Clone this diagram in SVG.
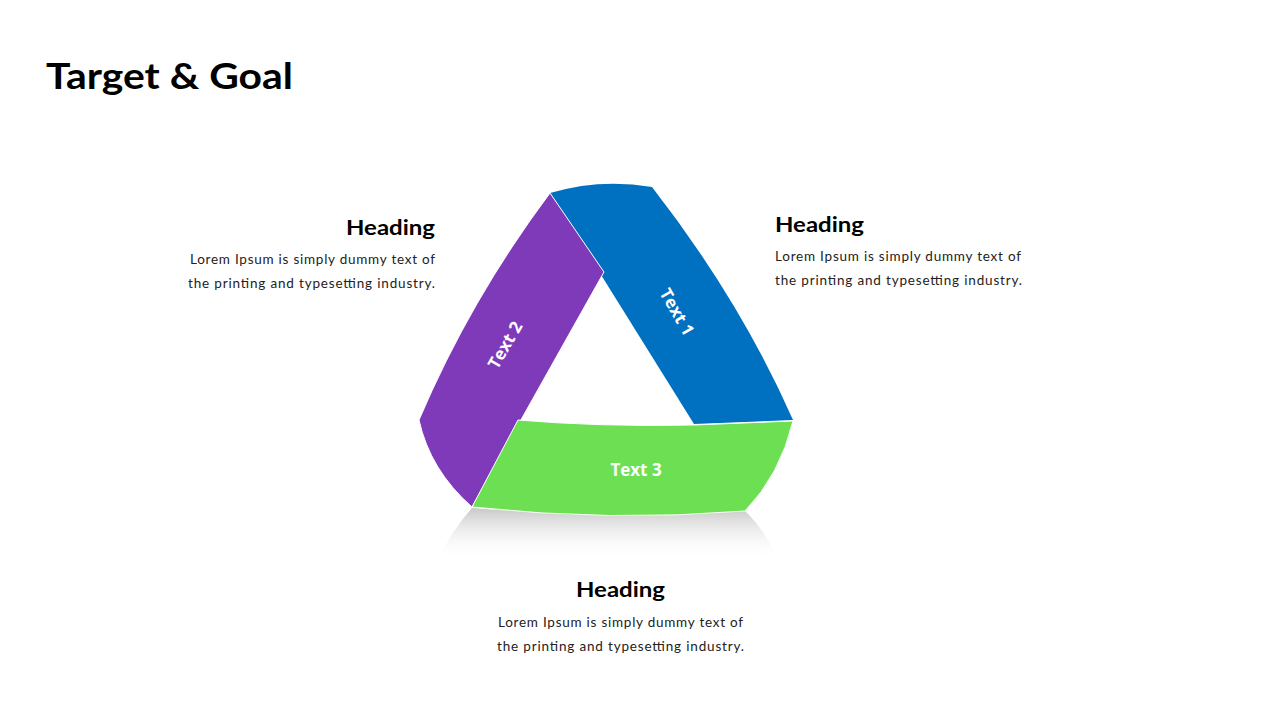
<svg xmlns="http://www.w3.org/2000/svg" width="1280" height="720" viewBox="0 0 1280 720">
<defs>
<linearGradient id="sh" x1="0" y1="0" x2="0" y2="1"><stop offset="0" stop-color="#c8c8c8"/><stop offset="1" stop-color="#fff" stop-opacity="0"/></linearGradient>
<style>
.h{font-family:"Lato","Liberation Sans",sans-serif;font-weight:bold;font-size:21px;fill:#000}
.b{font-family:"Lato","Liberation Sans",sans-serif;font-size:13.5px;fill:#222}
.l{font-family:"Open Sans","Liberation Sans",sans-serif;font-weight:bold;font-size:17px;fill:#fff}
</style>
</defs>
<rect width="1280" height="720" fill="#fff"/>
<text x="46" y="89" font-family="Lato,'Liberation Sans',sans-serif" font-weight="bold" font-size="36" fill="#000" textLength="247" lengthAdjust="spacingAndGlyphs">Target &amp; Goal</text>
<path d="M472,508 Q620,520 745,511 Q765,530 778,560 L438,560 Q452,530 472,508 Z" fill="url(#sh)"/>
<g id="node1"><path d="M550,193 Q600,178 652,187 Q740,300 793,420 L694,424 L550,193 Z" fill="#0070c0"/><text class="l" transform="translate(677,312) rotate(60)" text-anchor="middle" dy="6">Text 1</text></g>
<g id="node2"><path d="M550,193 L604,272 L472,507 Q430,470 419,420 Q470,300 550,193 Z" fill="#7f3ab9" stroke="#fff" stroke-width="1"/><text class="l" transform="translate(505,345) rotate(-60)" text-anchor="middle" dy="6">Text 2</text></g>
<g id="node3"><path d="M518,420 Q600,427 694,425 L793,421 Q780,475 745,511 Q610,522 472,507 Z" fill="#6ddf52" stroke="#fff" stroke-width="1"/><text class="l" x="636" y="476" text-anchor="middle">Text 3</text></g>
<g id="t1"><text class="h" x="775" y="232" textLength="89" lengthAdjust="spacingAndGlyphs">Heading</text><text class="b" x="775" y="261" textLength="246">Lorem Ipsum is simply dummy text of</text><text class="b" x="775" y="285" textLength="247">the printing and typesetting industry.</text></g>
<g id="t2"><text class="h" x="346" y="235" textLength="89" lengthAdjust="spacingAndGlyphs">Heading</text><text class="b" x="190" y="264" textLength="245">Lorem Ipsum is simply dummy text of</text><text class="b" x="188" y="288" textLength="247">the printing and typesetting industry.</text></g>
<g id="t3"><text class="h" x="576" y="597" textLength="89" lengthAdjust="spacingAndGlyphs">Heading</text><text class="b" x="498" y="627" textLength="245">Lorem Ipsum is simply dummy text of</text><text class="b" x="497" y="651" textLength="247">the printing and typesetting industry.</text></g>
<g id="connectors"/>
</svg>
